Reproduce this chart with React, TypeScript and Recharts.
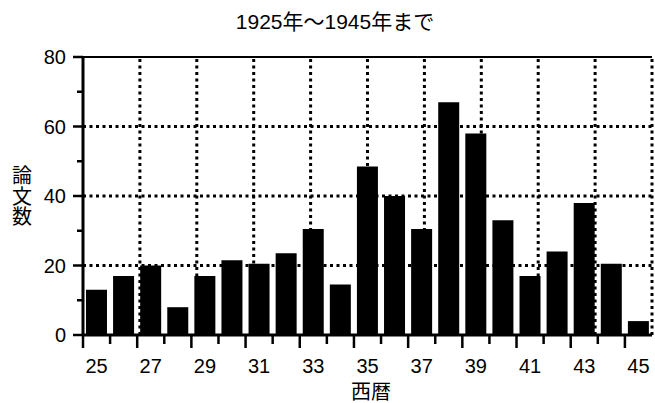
import React from "react";
import { BarChart, Bar, XAxis, YAxis, ReferenceLine } from "recharts";

const years = ["25","26","27","28","29","30","31","32","33","34","35","36","37","38","39","40","41","42","43","44","45"];
const counts = [13, 17, 20, 8, 17, 21.5, 20.5, 23.5, 30.5, 14.5, 48.5, 40, 30.5, 67, 58, 33, 17, 24, 38, 20.5, 4];
const yTicks = [0, 10, 20, 30, 40, 50, 60, 70, 80];
const yGridTicks = [20, 40, 60];
const xGridTicks = [2, 4, 6, 8, 10, 12, 14, 16, 18, 20];

const data = years.map((y, i) => ({ year: y, count: counts[i] }));

const W = 655;
const H = 403;
const LEFT = 83;
const RIGHT = 3;
const TOP = 57;
const XH = 68;
const BAND = (W - LEFT - RIGHT) / years.length;
const FONT = "'Liberation Sans', 'Noto Sans CJK JP', sans-serif";

function YTick(props: any) {
  const { x, y, payload } = props;
  const major = payload.value % 20 === 0;
  return (
    <g>
      <line x1={x - (major ? 10 : 6)} x2={x} y1={y} y2={y} stroke="#000" strokeWidth={2.5} />
      {major && (
        <text x={x - 17} y={y} dy={7} textAnchor="end" fontSize={20} fill="#000" fontFamily={FONT}>
          {payload.value}
        </text>
      )}
    </g>
  );
}

function XTick(props: any) {
  const { x, y, payload, index } = props;
  const major = index % 2 === 0;
  const lx = x - BAND / 2;
  return (
    <g>
      <line x1={lx} x2={lx} y1={y} y2={y + (major ? 13 : 9)} stroke="#000" strokeWidth={2.5} />
      {major && (
        <text x={x} y={y + 38} textAnchor="middle" fontSize={20} fill="#000" fontFamily={FONT}>
          {payload.value}
        </text>
      )}
    </g>
  );
}

const DOT = { stroke: "#000", strokeWidth: 3, strokeDasharray: "3 3.5" };

export default function App() {
  return (
    <div style={{ position: "absolute", left: 0, top: 0, width: W, height: H, background: "#fff", fontFamily: FONT }}>
      <BarChart
        width={W}
        height={H}
        data={data}
        margin={{ top: TOP, right: RIGHT, left: 0, bottom: 0 }}
        barCategoryGap="11%"
      >
        <XAxis xAxisId="grid" type="number" domain={[0, 21]} allowDataOverflow hide />
        <XAxis
          dataKey="year"
          interval={0}
          height={XH}
          tickSize={0}
          tickMargin={0}
          tick={<XTick />}
          axisLine={{ stroke: "#000", strokeWidth: 3 }}
          tickLine={false}
        />
        <YAxis
          type="number"
          domain={[0, 80]}
          ticks={yTicks}
          width={LEFT}
          tickSize={0}
          tickMargin={0}
          tick={<YTick />}
          axisLine={{ stroke: "#000", strokeWidth: 3 }}
          tickLine={false}
        />
        {yGridTicks.map((v) => (
          <ReferenceLine key={"h" + v} y={v} {...DOT} />
        ))}
        {xGridTicks.map((v) => (
          <ReferenceLine key={"v" + v} xAxisId="grid" x={v} {...DOT} />
        ))}
        <ReferenceLine y={80} stroke="#000" strokeWidth={2} />
        <ReferenceLine xAxisId="grid" x={21} stroke="#000" strokeWidth={2} />
        <Bar dataKey="count" fill="#000" isAnimationActive={false} />
      </BarChart>
      <div style={{ position: "absolute", left: 225, top: 9, width: 220, textAlign: "center", fontSize: 21, lineHeight: "26px", color: "#000" }}>
        1925年～1945年まで
      </div>
      <div style={{ position: "absolute", left: 10, top: 166, width: 24, textAlign: "center", fontSize: 20, lineHeight: "20.5px", color: "#000" }}>
        論<br />文<br />数
      </div>
      <div style={{ position: "absolute", left: 321, top: 381, width: 100, textAlign: "center", fontSize: 20, lineHeight: "22px", color: "#000" }}>
        西暦
      </div>
    </div>
  );
}
